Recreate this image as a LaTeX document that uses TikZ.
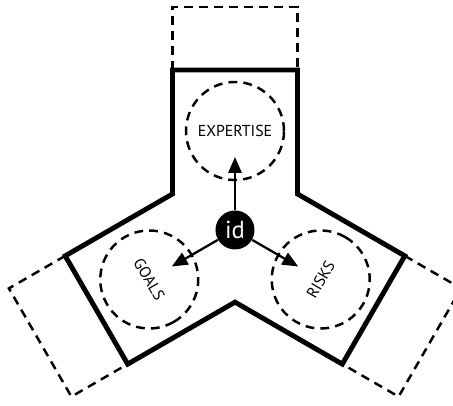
\documentclass[tikz,border=0pt]{standalone}
\usepackage{fontspec}
\setmainfont{PT Sans}
\usetikzlibrary{arrows.meta}
\tikzset{
  dashline/.style={line width=1.4pt,dash pattern=on 5pt off 3.5pt},
  zone/.style={circle,dashline,draw,minimum size=1.96cm,inner sep=0pt},
  link/.style={line width=1.3pt,-{Triangle[length=9pt,width=7.5pt]}}
}
\begin{document}
\begin{tikzpicture}[x=1cm,y=1cm,line join=miter,font=\fontsize{9}{10}\selectfont]
  \useasboundingbox (-4.7,-3.52) rectangle (4.36,4.6);
  \coordinate (T1) at (-1.25,3.2);
  \coordinate (T2) at (1.25,3.2);
  \coordinate (R1) at (3.396,-0.5175);
  \coordinate (R2) at (2.146,-2.6825);
  \coordinate (L1) at (-2.146,-2.6825);
  \coordinate (L2) at (-3.396,-0.5175);
  \draw[line width=2.8pt] (150:1.443)--(T1)--(T2)--(30:1.443)--(R1)--(R2)--(270:1.443)--(L1)--(L2)--cycle;
  \draw[dashline] (T1)--(-1.25,4.46)--(1.25,4.46)--(T2);
  \draw[dashline] (R1)--(4.522,-1.1675)--(3.272,-3.3325)--(R2);
  \draw[dashline] (L2)--(-4.522,-1.1675)--(-3.272,-3.3325)--(L1);
  \node[zone] (expertise) at (90:1.98) {EXPERTISE};
  \node[zone,rotate=-60] (goals) at (210:1.98) {GOALS};
  \node[zone,rotate=60] (risks) at (330:1.98) {RISKS};
  \node[circle,fill=black,text=white,minimum size=0.78cm,inner sep=0pt,font=\fontsize{14}{14}\selectfont] (id) at (0,0) {id};
  \coordinate (tipE) at (90:1.46);
  \coordinate (tipG) at (210:1.46);
  \coordinate (tipR) at (330:1.46);
  \draw[link] (id) -- (tipE);
  \draw[link] (id) -- (tipG);
  \draw[link] (id) -- (tipR);
\end{tikzpicture}
\end{document}
